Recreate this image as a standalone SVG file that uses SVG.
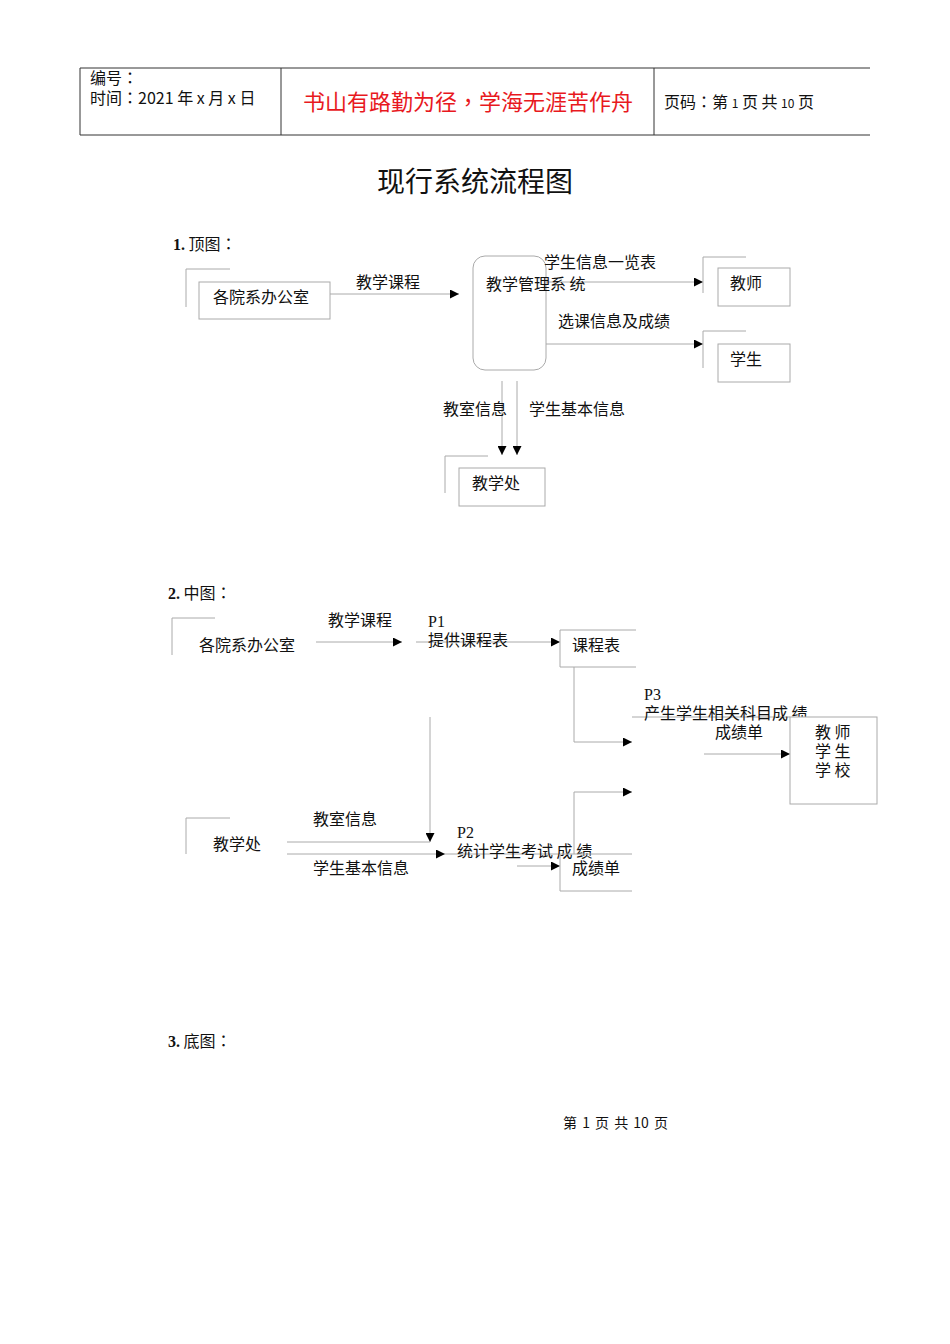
<svg xmlns="http://www.w3.org/2000/svg" width="950" height="1344" viewBox="0 0 950 1344">
<style>
.t{font-family:"Noto Sans CJK SC","Liberation Sans",sans-serif;font-size:16px;fill:#111}
.s{font-family:"Liberation Serif","Noto Sans CJK SC",serif;font-size:16px;fill:#111}
.p{font-family:"Noto Sans CJK TC",sans-serif}
.ln{stroke:#aaa;stroke-width:1;fill:none}
.bx{stroke:#aaa;stroke-width:1;fill:#fff}
.hd{stroke:#333;stroke-width:1;fill:none}
</style>
<defs>
<marker id="ar" viewBox="0 0 10 10" refX="10" refY="5" markerWidth="9" markerHeight="9" markerUnits="userSpaceOnUse" orient="auto">
<path d="M0,0 L10,5 L0,10 z" fill="#000"/>
</marker>
</defs>
<rect width="950" height="1344" fill="#fff"/>
<g id="header">
<line class="hd" x1="80" y1="68" x2="870" y2="68"/>
<line class="hd" x1="80" y1="135" x2="870" y2="135"/>
<line class="hd" x1="80" y1="68" x2="80" y2="135"/>
<line class="hd" x1="281" y1="68" x2="281" y2="135"/>
<line class="hd" x1="654" y1="68" x2="654" y2="135"/>
<text class="t" x="90" y="84">编号<tspan class="p">：</tspan></text>
<text class="t" x="90" y="104">时间<tspan class="p">：</tspan>2021 年 x 月 x 日</text>
<text class="t" x="468" y="110" text-anchor="middle" style="font-size:22px;fill:#e8191e">书山有路勤为径<tspan class="p">，</tspan>学海无涯苦作舟</text>
<text class="t" x="664" y="108">页码<tspan class="p">：</tspan>第 <tspan style="font-size:12px">1</tspan> 页 共 <tspan style="font-size:12px">10</tspan> 页</text>
</g>
<text class="t" x="475" y="192" text-anchor="middle" style="font-size:28px">现行系统流程图</text>
<text x="173" y="250" class="t"><tspan class="s" font-weight="bold">1.</tspan> 顶图<tspan class="p">：</tspan></text>
<text x="168" y="599" class="t"><tspan class="s" font-weight="bold">2.</tspan> 中图<tspan class="p">：</tspan></text>
<text x="168" y="1047" class="t"><tspan class="s" font-weight="bold">3.</tspan> 底图<tspan class="p">：</tspan></text>
<text class="t" x="563" y="1128" style="font-size:14px;word-spacing:2px">第 1 页 共 10 页</text>

<g id="connectors">
<line class="ln" x1="330" y1="294" x2="459" y2="294" marker-end="url(#ar)"/>
<line class="ln" x1="546" y1="282" x2="703" y2="282" marker-end="url(#ar)"/>
<line class="ln" x1="546" y1="344" x2="703" y2="344" marker-end="url(#ar)"/>
<line class="ln" x1="502" y1="381" x2="502" y2="455" marker-end="url(#ar)"/>
<line class="ln" x1="517" y1="381" x2="517" y2="455" marker-end="url(#ar)"/>
<line class="ln" x1="316" y1="642" x2="402" y2="642" marker-end="url(#ar)"/>
<line class="ln" x1="416" y1="642" x2="560" y2="642" marker-end="url(#ar)"/>
<polyline class="ln" points="574,667 574,742 632,742" marker-end="url(#ar)"/>
<line class="ln" x1="632" y1="717" x2="790" y2="717"/>
<line class="ln" x1="704" y1="754" x2="790" y2="754" marker-end="url(#ar)"/>
<polyline class="ln" points="574,854 574,792 632,792" marker-end="url(#ar)"/>
<line class="ln" x1="430" y1="717" x2="430" y2="842" marker-end="url(#ar)"/>
<line class="ln" x1="287" y1="842" x2="430" y2="842"/>
<line class="ln" x1="287" y1="854" x2="445" y2="854" marker-end="url(#ar)"/>
<line class="ln" x1="445" y1="854" x2="560" y2="854"/>
<line class="ln" x1="517" y1="866" x2="560" y2="866" marker-end="url(#ar)"/>
</g>

<g id="top-office">
<polyline class="ln" points="186,307 186,269 230,269"/>
<rect class="bx" x="199" y="282" width="131" height="37"/>
<text class="t" x="213" y="303">各院系办公室</text>
</g>
<text class="t" x="356" y="288">教学课程</text>
<g id="top-system">
<rect class="ln" x="473" y="256" width="73" height="114" rx="12"/>
<text class="t" x="486" y="290">教学管理系 统</text>
</g>
<text class="t" x="544" y="268">学生信息一览表</text>
<text class="t" x="558" y="327">选课信息及成绩</text>
<g id="top-teacher">
<polyline class="ln" points="703,293 703,257 746,257"/>
<rect class="bx" x="718" y="268" width="72" height="38"/>
<text class="t" x="730" y="289">教师</text>
</g>
<g id="top-student">
<polyline class="ln" points="703,368 703,331 746,331"/>
<rect class="bx" x="718" y="344" width="72" height="38"/>
<text class="t" x="730" y="365">学生</text>
</g>
<text class="t" x="443" y="415">教室信息</text>
<text class="t" x="529" y="415">学生基本信息</text>
<g id="top-office2">
<polyline class="ln" points="445,493 445,456 488,456"/>
<rect class="bx" x="459" y="468" width="86" height="38"/>
<text class="t" x="472" y="489">教学处</text>
</g>

<g id="mid-office">
<polyline class="ln" points="172,655 172,618 215,618"/>
<text class="t" x="199" y="651">各院系办公室</text>
</g>
<text class="t" x="328" y="626">教学课程</text>
<g id="p1">
<text class="s" x="428" y="627">P1</text>
<text class="t" x="428" y="646">提供课程表</text>
</g>
<g id="course-table">
<polyline class="ln" points="636,630 560,630 560,667 636,667"/>
<text class="t" x="572" y="651">课程表</text>
</g>
<g id="p3">
<text class="s" x="644" y="700">P3</text>
<text class="t" x="644" y="719">产生学生相关科目成 绩</text>
</g>
<text class="t" x="715" y="738">成绩单</text>
<g id="receivers">
<rect class="bx" x="790" y="717" width="87" height="87"/>
<text class="t" x="815" y="738">教 师</text>
<text class="t" x="815" y="757">学 生</text>
<text class="t" x="815" y="776">学 校</text>
</g>
<g id="mid-office2">
<polyline class="ln" points="186,854 186,818 230,818"/>
<text class="t" x="213" y="850">教学处</text>
</g>
<text class="t" x="313" y="825">教室信息</text>
<text class="t" x="313" y="874">学生基本信息</text>
<g id="p2">
<text class="s" x="457" y="838">P2</text>
<text class="t" x="457" y="857">统计学生考试 成 绩</text>
</g>
<g id="grade-sheet">
<polyline class="ln" points="632,854 560,854 560,891 632,891"/>
<text class="t" x="572" y="874">成绩单</text>
</g>
</svg>
